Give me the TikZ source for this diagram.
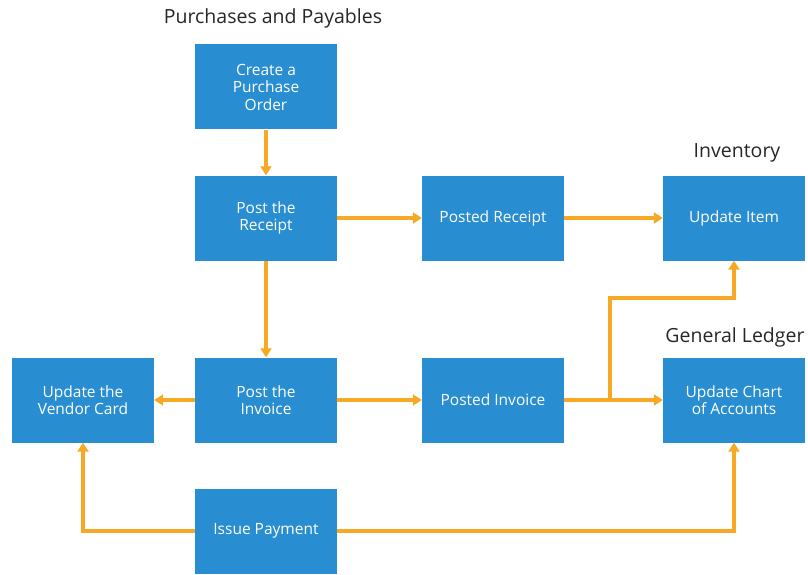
\documentclass[tikz,border=0pt]{standalone}
\usepackage{fontspec}
\setmainfont{Open Sans}
\usetikzlibrary{arrows.meta}
\definecolor{boxblue}{RGB}{40,142,209}
\definecolor{arrorange}{RGB}{247,168,36}
\begin{document}
\begin{tikzpicture}[x=1pt,y=-1pt,
  box/.style={rectangle, fill=boxblue, minimum width=142pt, minimum height=85pt, text=white, align=center, inner sep=0pt, font=\fontsize{15.5}{17.5}\selectfont},
  conn/.style={draw=arrorange, line width=3.2pt, -{Triangle[length=9pt,width=11pt]}},
  title/.style={font=\fontsize{19.5}{22}\selectfont, text=black!85}]
\useasboundingbox (0,0) rectangle (808,575);
\node[box] (po) at (266,87) {Create a\\Purchase\\Order};
\node[box] (pr) at (266,218) {Post the\\Receipt};
\node[box] (psr) at (493,218) {Posted Receipt};
\node[box] (ui) at (734,218) {Update Item};
\node[box] (vc) at (83,400) {Update the\\Vendor Card};
\node[box] (pin) at (266,400) {Post the\\Invoice};
\node[box] (psi) at (493,400) {Posted Invoice};
\node[box] (uc) at (734,400) {Update Chart\\of Accounts};
\node[box] (ip) at (266,531) {Issue Payment};
\node[title] (t1) at (273,18) {Purchases and Payables};
\node[title] (t2) at (737,153) {Inventory};
\node[title] (t3) at (735,337) {General Ledger};
\coordinate (j) at (610,400);
\coordinate (k) at (610,298);
\draw[conn] (po) -- (pr);
\draw[conn] (pr) -- (psr);
\draw[conn] (psr) -- (ui);
\draw[conn] (pr) -- (pin);
\draw[conn] (pin) -- (vc);
\draw[conn] (pin) -- (psi);
\draw[conn] (psi) -- (uc);
\draw[conn] (j) -- (k) -| (ui.south);
\draw[conn] (ip.west) -| (vc.south);
\draw[conn] (ip.east) -| (uc.south);
\end{tikzpicture}
\end{document}
